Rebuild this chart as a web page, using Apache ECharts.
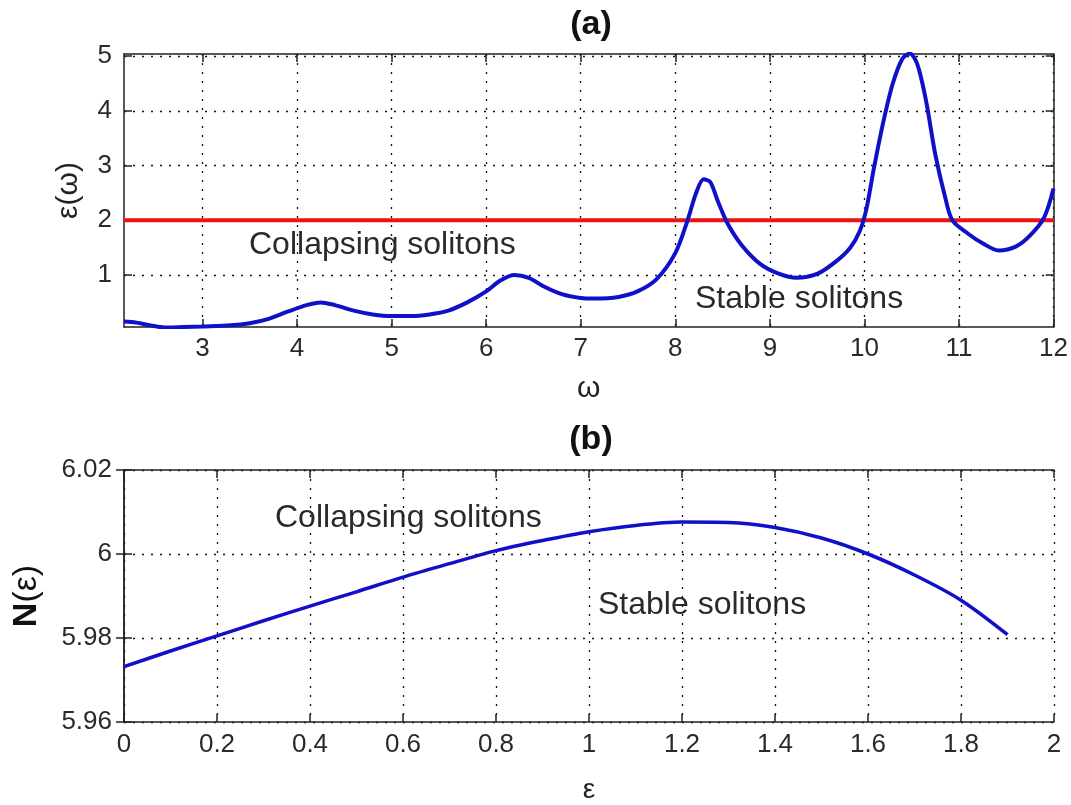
<!DOCTYPE html>
<html>
<head>
<meta charset="utf-8">
<script src="https://cdn.jsdelivr.net/npm/echarts@6/dist/echarts.min.js"></script>
<style>
  html, body { margin: 0; padding: 0; background: #fff; }
  #chart { width: 1071px; height: 805px; }
</style>
</head>
<body>
<div id="chart"></div>
<script>
// panel (a): epsilon as a function of omega
var omega = [2.17, 2.3, 2.45, 2.6, 2.8, 3.0, 3.3, 3.5, 3.7, 3.9, 4.1, 4.25, 4.4, 4.6, 4.8, 5.0, 5.2, 5.4, 5.6, 5.8,
             6.0, 6.15, 6.3, 6.45, 6.6, 6.8, 7.0, 7.15, 7.4, 7.6, 7.8, 8.0, 8.13, 8.22, 8.3, 8.37, 8.45, 8.55, 8.7, 8.9,
             9.1, 9.28, 9.5, 9.7, 9.85, 9.95, 10.02, 10.1, 10.2, 10.3, 10.4, 10.48, 10.56, 10.65, 10.75, 10.85, 10.93, 11.1, 11.25, 11.42, 11.6, 11.75, 11.9, 12.0];
var epsOmega = [0.15, 0.13, 0.08, 0.04, 0.05, 0.06, 0.08, 0.12, 0.2, 0.33, 0.45, 0.5, 0.45, 0.35, 0.28, 0.25, 0.25, 0.28, 0.35, 0.5,
                0.7, 0.9, 1.0, 0.95, 0.8, 0.65, 0.58, 0.57, 0.6, 0.7, 0.92, 1.4, 2.0, 2.5, 2.75, 2.7, 2.35, 1.95, 1.55, 1.2,
                1.02, 0.95, 1.02, 1.25, 1.5, 1.8, 2.2, 2.95, 3.8, 4.5, 4.95, 5.05, 4.85, 4.2, 3.2, 2.45, 2.0, 1.75, 1.58, 1.45, 1.52, 1.72, 2.05, 2.58];
var threshold = 2;
var omegaTicks = [3, 4, 5, 6, 7, 8, 9, 10, 11, 12];
var epsTicks = [1, 2, 3, 4, 5];

// panel (b): N as a function of epsilon
var eps = [0, 0.1, 0.2, 0.3, 0.4, 0.5, 0.6, 0.7, 0.8, 0.9, 1.0, 1.1, 1.2, 1.3, 1.4, 1.5, 1.6, 1.7, 1.8, 1.9];
var nEps = [5.9732, 5.9769, 5.9805, 5.9841, 5.9876, 5.9910, 5.9945, 5.9977, 6.0008, 6.0032, 6.0053, 6.0068, 6.0076, 6.0075, 6.0063, 6.0038, 6.0, 5.9950, 5.9890, 5.9808];

var myChart = echarts.init(document.getElementById('chart'));

var font = 'Liberation Sans, Arial, sans-serif';
var blue = '#1010c8';
var labelStyle = { color: '#2a2a2a', fontSize: 26, fontFamily: font };
var dotted = { show: true, lineStyle: { color: '#111', type: [2, 7], width: 1.3 } };
var frame = { show: true, lineStyle: { color: '#222', width: 1.5 } };
var tick = { show: true, inside: true, length: 8, lineStyle: { color: '#222', width: 1.5 } };
var noteStyle = { fontSize: 32, fontFamily: font, fill: '#2a2a2a' };

function zipData(xs, ys) {
    return xs.map(function (x, i) { return [x, ys[i]]; });
}

var option = {
    backgroundColor: '#fff',
    animation: false,
    title: [
        { text: '(a)', left: 586, top: 3, textAlign: 'center',
          textStyle: { fontSize: 34, fontWeight: 'bold', fontFamily: font, color: '#111' } },
        { text: '(b)', left: 586, top: 418, textAlign: 'center',
          textStyle: { fontSize: 34, fontWeight: 'bold', fontFamily: font, color: '#111' } }
    ],
    grid: [
        { left: 124, right: 17, top: 54, height: 273 },
        { left: 124, right: 17, top: 470, height: 253 }
    ],
    xAxis: [
        {
            gridIndex: 0, type: 'value', min: 2.17, max: 12,
            name: 'ω', nameLocation: 'middle', nameGap: 47,
            nameTextStyle: { fontSize: 30, fontFamily: font, color: '#222' },
            axisLine: frame, axisTick: Object.assign({ customValues: omegaTicks }, tick),
            axisLabel: Object.assign({ customValues: omegaTicks, margin: 9 }, labelStyle),
            splitLine: dotted
        },
        {
            gridIndex: 0, type: 'value', min: 2.17, max: 12, position: 'top',
            axisLine: frame, axisTick: Object.assign({ customValues: omegaTicks }, tick),
            axisLabel: { show: false }, splitLine: { show: false }
        },
        {
            gridIndex: 1, type: 'value', min: 0, max: 2, interval: 0.2,
            name: 'ε', nameLocation: 'middle', nameGap: 54,
            nameTextStyle: { fontSize: 28, fontFamily: font, color: '#222' },
            axisLine: frame, axisTick: tick,
            axisLabel: Object.assign({ margin: 10 }, labelStyle),
            splitLine: dotted
        },
        {
            gridIndex: 1, type: 'value', min: 0, max: 2, interval: 0.2, position: 'top',
            axisLine: frame, axisTick: tick,
            axisLabel: { show: false }, splitLine: { show: false }
        }
    ],
    yAxis: [
        {
            gridIndex: 0, type: 'value', min: 0.05, max: 5.04,
            name: 'ε(ω)', nameLocation: 'middle', nameGap: 40, nameRotate: 90,
            nameTextStyle: { fontSize: 30, fontFamily: font, color: '#222' },
            axisLine: frame, axisTick: Object.assign({ customValues: epsTicks }, tick),
            axisLabel: Object.assign({ customValues: epsTicks, margin: 12 }, labelStyle),
            splitLine: dotted
        },
        {
            gridIndex: 0, type: 'value', min: 0.05, max: 5.04, position: 'right',
            axisLine: frame, axisTick: Object.assign({ customValues: epsTicks }, tick),
            axisLabel: { show: false }, splitLine: { show: false }
        },
        {
            gridIndex: 1, type: 'value', min: 5.96, max: 6.02, interval: 0.02,
            name: '{n|N}(ε)', nameLocation: 'middle', nameGap: 80, nameRotate: 90,
            nameTextStyle: { fontSize: 34, fontFamily: font, color: '#111',
                             rich: { n: { fontSize: 34, fontWeight: 'bold', fontFamily: font, color: '#111' } } },
            axisLine: frame, axisTick: tick,
            axisLabel: Object.assign({ margin: 12, formatter: function (v) { return +v.toFixed(2) + ''; } }, labelStyle),
            splitLine: dotted
        },
        {
            gridIndex: 1, type: 'value', min: 5.96, max: 6.02, interval: 0.02, position: 'right',
            axisLine: frame, axisTick: tick,
            axisLabel: { show: false }, splitLine: { show: false }
        }
    ],
    series: [
        {
            type: 'line', xAxisIndex: 0, yAxisIndex: 0,
            data: [[omega[0], threshold], [omega[omega.length - 1], threshold]],
            symbol: 'none', lineStyle: { color: '#ee1111', width: 4 }, z: 3
        },
        {
            type: 'line', xAxisIndex: 0, yAxisIndex: 0, data: zipData(omega, epsOmega),
            smooth: 0.3, symbol: 'none', lineStyle: { color: blue, width: 4 }, z: 4
        },
        {
            type: 'line', xAxisIndex: 2, yAxisIndex: 2, data: zipData(eps, nEps),
            smooth: 0.3, symbol: 'none', lineStyle: { color: blue, width: 3.5 }, z: 4
        }
    ],
    graphic: [
        { type: 'text', left: 249, top: 229, style: noteStyle, z: 10, style: Object.assign({ text: 'Collapsing solitons' }, noteStyle) },
        { type: 'text', left: 695, top: 283, style: Object.assign({ text: 'Stable solitons' }, noteStyle) },
        { type: 'text', left: 275, top: 502, style: Object.assign({ text: 'Collapsing solitons' }, noteStyle) },
        { type: 'text', left: 598, top: 589, style: Object.assign({ text: 'Stable solitons' }, noteStyle) }
    ]
};

myChart.setOption(option);
</script>
</body>
</html>
